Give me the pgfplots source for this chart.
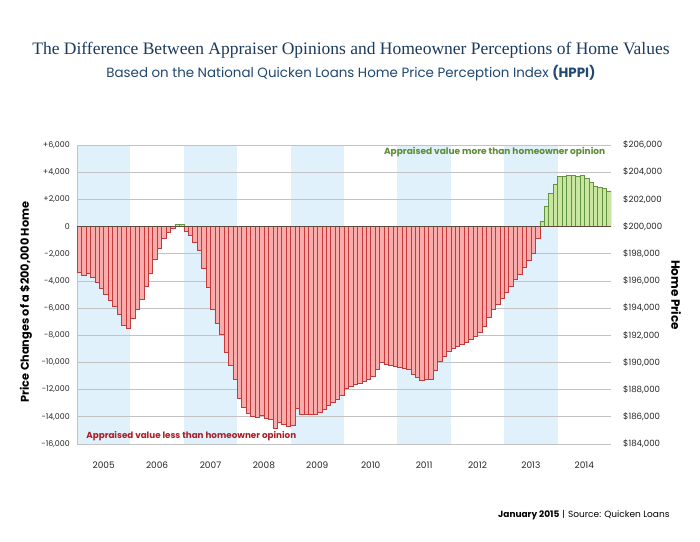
\documentclass[border=0pt]{standalone}
\usepackage{pgfplots}
\pgfplotsset{compat=1.18}
\usepackage{fontspec}
\setmainfont{Poppins}
\newfontfamily\titlefont{Liberation Serif}
\definecolor{band}{RGB}{224,241,251}
\definecolor{redfill}{RGB}{249,172,172}
\definecolor{rededge}{RGB}{196,58,58}
\definecolor{greenfill}{RGB}{200,230,160}
\definecolor{greenedge}{RGB}{98,148,66}
\definecolor{zerocol}{RGB}{95,75,60}
\definecolor{titlecol}{RGB}{27,58,92}
\definecolor{subcol}{RGB}{32,72,112}
\definecolor{redtext}{RGB}{170,30,40}
\definecolor{greentext}{RGB}{92,140,52}
\definecolor{gridcol}{RGB}{195,195,195}
\pgfplotsset{gl/.style={gridcol, line width=0.7pt, forget plot}, bd/.style={fill=band, draw=none, forget plot}}
\begin{document}
\begin{tikzpicture}[x=1pt,y=1pt]
\fill[white] (0,0) rectangle (700,541);
\node[text=titlecol, font=\titlefont\fontsize{17.5}{20}\selectfont] at (351,491) {The Difference Between Appraiser Opinions and Homeowner Perceptions of Home Values};
\node[text=subcol, font=\fontsize{13.4}{15}\selectfont] at (351,468) {Based on the National Quicken Loans Home Price Perception Index \textbf{(HPPI)}};
\begin{axis}[
  at={(77pt,97pt)}, anchor=south west,
  scale only axis, width=534pt, height=299pt,
  xmin=-0.5, xmax=119.5, ymin=-16000, ymax=6000,
  axis line style={draw=none},
  major tick length=0pt,
  scaled y ticks=false, scaled x ticks=false,
  ytick={-16000,-14000,-12000,-10000,-8000,-6000,-4000,-2000,0,2000,4000,6000},
  yticklabels={-16{,}000,-14{,}000,-12{,}000,-10{,}000,-8{,}000,-6{,}000,-4{,}000,-2{,}000,0,+2{,}000,+4{,}000,+6{,}000},
  xtick={5.5,17.5,29.5,41.5,53.5,65.5,77.5,89.5,101.5,113.5},
  xticklabels={2005,2006,2007,2008,2009,2010,2011,2012,2013,2014},
  /pgf/number format/assume math mode=true,
  yticklabel style={font=\fontsize{7.9}{9}\selectfont, text=black!85, anchor=east, inner sep=0pt, xshift=-7pt},
  xticklabel style={font=\fontsize{9}{10}\selectfont, text=black!85, anchor=center, inner sep=0pt, yshift=-21pt},
]
\addplot[bd] coordinates {(-0.5,-16000) (11.5,-16000) (11.5,6000) (-0.5,6000)} -- cycle;
\addplot[bd] coordinates {(23.5,-16000) (35.5,-16000) (35.5,6000) (23.5,6000)} -- cycle;
\addplot[bd] coordinates {(47.5,-16000) (59.5,-16000) (59.5,6000) (47.5,6000)} -- cycle;
\addplot[bd] coordinates {(71.5,-16000) (83.5,-16000) (83.5,6000) (71.5,6000)} -- cycle;
\addplot[bd] coordinates {(95.5,-16000) (107.5,-16000) (107.5,6000) (95.5,6000)} -- cycle;
\addplot[gl] coordinates {(-0.5,-16000) (119.5,-16000)};
\addplot[gl] coordinates {(-0.5,-14000) (119.5,-14000)};
\addplot[gl] coordinates {(-0.5,-12000) (119.5,-12000)};
\addplot[gl] coordinates {(-0.5,-10000) (119.5,-10000)};
\addplot[gl] coordinates {(-0.5,-8000) (119.5,-8000)};
\addplot[gl] coordinates {(-0.5,-6000) (119.5,-6000)};
\addplot[gl] coordinates {(-0.5,-4000) (119.5,-4000)};
\addplot[gl] coordinates {(-0.5,-2000) (119.5,-2000)};
\addplot[gl] coordinates {(-0.5,2000) (119.5,2000)};
\addplot[gl] coordinates {(-0.5,4000) (119.5,4000)};
\addplot[gl] coordinates {(-0.5,6000) (119.5,6000)};
\addplot[gl] coordinates {(-0.5,-16000) (-0.5,6000)};
\addplot[ybar, bar width=1, bar shift=0, fill=redfill, draw=rededge, line width=0.5pt] coordinates {
(0,-3350) (1,-3550) (2,-3400) (3,-3750) (4,-4100) (5,-4550) (6,-4950) (7,-5450) (8,-5870) (9,-6450) (10,-7270) (11,-7490)
(12,-6750) (13,-6050) (14,-5340) (15,-4390) (16,-3450) (17,-2400) (18,-1590) (19,-860) (20,-430) (21,-100)
(24,-330) (25,-650) (26,-1180) (27,-1730) (28,-3050) (29,-4500) (30,-6080) (31,-7120) (32,-7950) (33,-9270) (34,-10210) (35,-11220)
(36,-12630) (37,-13330) (38,-13740) (39,-13990) (40,-14000) (41,-13900) (42,-14070) (43,-14180) (44,-14870) (45,-14380) (46,-14550) (47,-14720)
(48,-14600) (49,-13350) (50,-13800) (51,-13830) (52,-13830) (53,-13800) (54,-13700) (55,-13450) (56,-13150) (57,-12900) (58,-12700) (59,-12400)
(60,-11900) (61,-11750) (62,-11600) (63,-11500) (64,-11350) (65,-11200) (66,-11000) (67,-10500) (68,-10020) (69,-10140) (70,-10180) (71,-10250)
(72,-10340) (73,-10460) (74,-10510) (75,-10880) (76,-11080) (77,-11300) (78,-11200) (79,-11200) (80,-10560) (81,-9900) (82,-9540) (83,-9170)
(84,-8970) (85,-8800) (86,-8680) (87,-8550) (88,-8300) (89,-8050) (90,-7780) (91,-7300) (92,-6700) (93,-6100) (94,-5700) (95,-5250)
(96,-4850) (97,-4400) (98,-3900) (99,-3500) (100,-3000) (101,-2500) (102,-2000) (103,-850)
};
\addplot[ybar, bar width=1, bar shift=0, fill=greenfill, draw=greenedge, line width=0.5pt] coordinates {
(22,150) (23,150)
(104,400) (105,1500) (106,2450) (107,3100)
(108,3670) (109,3670) (110,3740) (111,3740) (112,3700) (113,3740) (114,3550) (115,3230) (116,2930) (117,2880) (118,2810) (119,2620)
};
\addplot[zerocol, line width=0.9pt] coordinates {(-0.5,0) (119.5,0)};
\node[anchor=east, text=greentext, font=\bfseries\fontsize{9}{10}\selectfont] at (axis cs:119,5500) {Appraised value more than homeowner opinion};
\node[anchor=west, text=redtext, font=\bfseries\fontsize{8.8}{10}\selectfont] at (axis cs:0.8,-15450) {Appraised value less than homeowner opinion};
\end{axis}
\begin{axis}[
  at={(77pt,97pt)}, anchor=south west,
  scale only axis, width=534pt, height=299pt,
  xmin=-0.5, xmax=119.5, ymin=184000, ymax=206000,
  axis y line*=right, axis x line=none,
  axis line style={draw=none},
  major tick length=0pt,
  scaled y ticks=false,
  ytick={184000,186000,188000,190000,192000,194000,196000,198000,200000,202000,204000,206000},
  yticklabels={\$184{,}000,\$186{,}000,\$188{,}000,\$190{,}000,\$192{,}000,\$194{,}000,\$196{,}000,\$198{,}000,\$200{,}000,\$202{,}000,\$204{,}000,\$206{,}000},
  /pgf/number format/assume math mode=true,
  yticklabel style={font=\fontsize{8.6}{10}\selectfont, text=black!85, anchor=west, inner sep=0pt, xshift=12pt},
]
\addplot[draw=none] coordinates {(0,200000) (10,201000)};
\end{axis}
\node[rotate=90, font=\bfseries\fontsize{11.3}{13}\selectfont] at (26,239) {Price Changes of a \$200,000 Home};
\node[rotate=-90, font=\bfseries\fontsize{12}{14}\selectfont] at (676,246) {Home Price};
\node[anchor=east, font=\fontsize{9}{11}\selectfont] at (673,26) {\textbf{January 2015}\,\,|\,\,Source: Quicken Loans};
\end{tikzpicture}
\end{document}
